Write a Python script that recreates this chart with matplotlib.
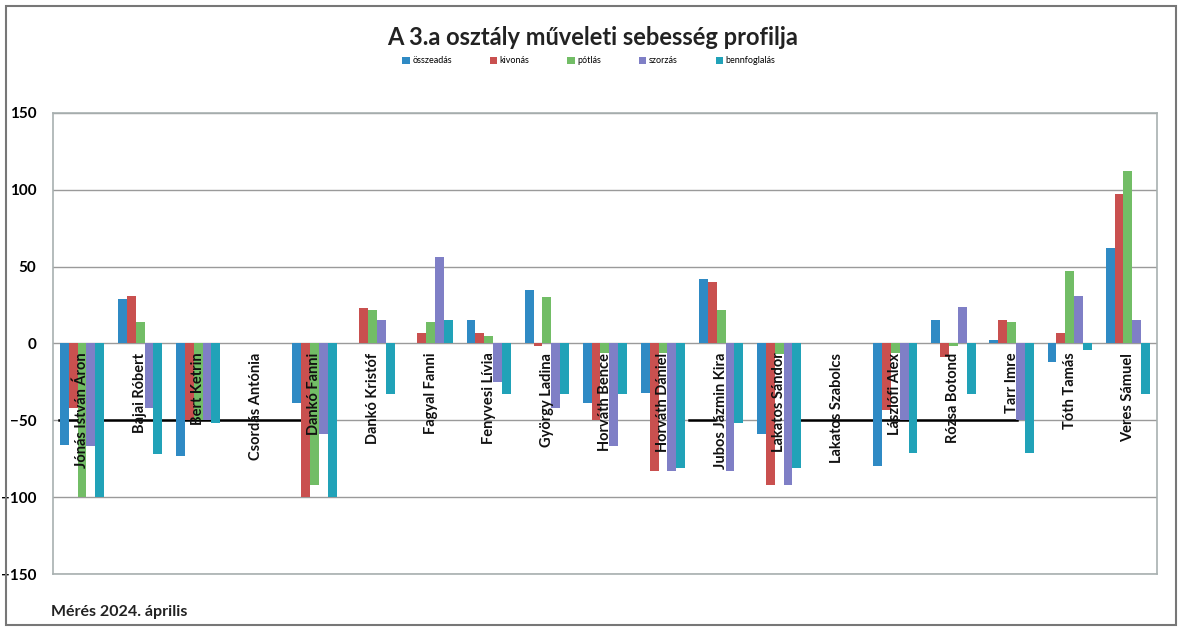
import matplotlib
matplotlib.use('Agg')
import matplotlib.pyplot as plt
import matplotlib.patches as mpatches
import numpy as np

plt.rcParams['font.family'] = ['Lato', 'DejaVu Sans']

# Data
names = ["Jónás István Áron", "Bajai Róbert", "Bert Ketrin", "Csordás Antónia",
         "Dankó Fanni", "Dankó Kristóf", "Fagyal Fanni", "Fenyvesi Lívia",
         "György Ladina", "Horváth Bence", "Horváth Dániel", "Jubos Jázmin Kira",
         "Lakatos Sándor", "Lakatos Szabolcs", "Lászlófi Alex", "Rózsa Botond",
         "Tarr Imre", "Tóth Tamás", "Veres Sámuel"]
osszeadas = [-66, 29, -73, 0, -39, 0, 0, 15, 35, -39, -32, 42, -59, 0, -80, 15, 2, -12, 62]
kivonas = [-42, 31, -50, 0, -100, 23, 7, 7, -1.5, -50, -83, 40, -92, 0, -43, -9, 15, 7, 97]
potlas = [-100, 14, -50, 0, -92, 22, 14, 5, 30, -6, -6, 22, -7, 0, -6, -1.5, 14, 47, 112]
szorzas = [-67, -42, -50, 0, -59, 15, 56, -25, -42, -67, -83, -83, -92, 0, -50, 23.5, -50, 31, 15]
bennfoglalas = [-100, -72, -52, 0, -100, -33, 15, -33, -33, -33, -81, -52, -81, 0, -71.5, -33, -71.5, -4, -33]
series_labels = ["összeadás", "kivonás", "pótlás", "szorzás", "bennfoglalás"]
colors = ['#2f8ac4', '#c9504f', '#72bd66', '#7f7fc6', '#21a2b8']

# black reference line at -50 (spans in category units)
ref_level = -50
ref_spans = [(-0.4, 3.75), (10.45, 10.9), (12.2, 16.1)]

fig = plt.figure(figsize=(11.78, 6.27), dpi=100)
ax = fig.add_axes([0.045, 0.0845, 0.937, 0.7355])

x = np.arange(len(names))
w = 0.152
all_series = [osszeadas, kivonas, potlas, szorzas, bennfoglalas]
for i, (vals, lab, col) in enumerate(zip(all_series, series_labels, colors)):
    ax.bar(x + (i - 2) * w, vals, width=w, color=col, label=lab, zorder=2)

for x0, x1 in ref_spans:
    ax.plot([x0, x1], [ref_level, ref_level], color='black', linewidth=1.8, zorder=1.5)

# category labels inside the plot
for xi, nm in zip(x, names):
    ax.text(xi, -6, nm, rotation=90, ha='center', va='top', fontsize=10.5,
            fontweight='bold', color='#111111', zorder=3)

ax.set_xlim(-0.5, len(names) - 0.5)
ax.set_ylim(-150, 150)
ax.set_yticks([-150, -100, -50, 0, 50, 100, 150])
ax.set_xticks([])
ax.tick_params(axis='y', length=0, pad=12, labelsize=11)
for t in ax.get_yticklabels():
    t.set_fontweight('bold')
ax.grid(axis='y', color='#9a9a9a', linewidth=1, zorder=0)
ax.set_axisbelow(True)
for s in ax.spines.values():
    s.set_color('#a8b0b0')
    s.set_linewidth(1.2)

fig.text(0.503, 0.94, "A 3.a osztály műveleti sebesség profilja", ha='center', va='center',
         fontsize=17, fontweight='bold', color='#222222')
fig.legend(loc='center', bbox_to_anchor=(0.5, 0.903), ncol=5, frameon=False,
           fontsize=6.5, handlelength=0.8, handleheight=0.8, handletextpad=0.3,
           columnspacing=4.2)

fig.text(0.043, 0.012, "Mérés 2024. április", ha='left', va='bottom', fontsize=11.5,
         fontweight='bold', color='#222222')

# outer frame
fig.patches.append(mpatches.Rectangle((0.005, 0.003), 0.993, 0.988, transform=fig.transFigure,
                                      fill=False, edgecolor='#777777', linewidth=1.5))

fig.savefig('out.png', dpi=100)
